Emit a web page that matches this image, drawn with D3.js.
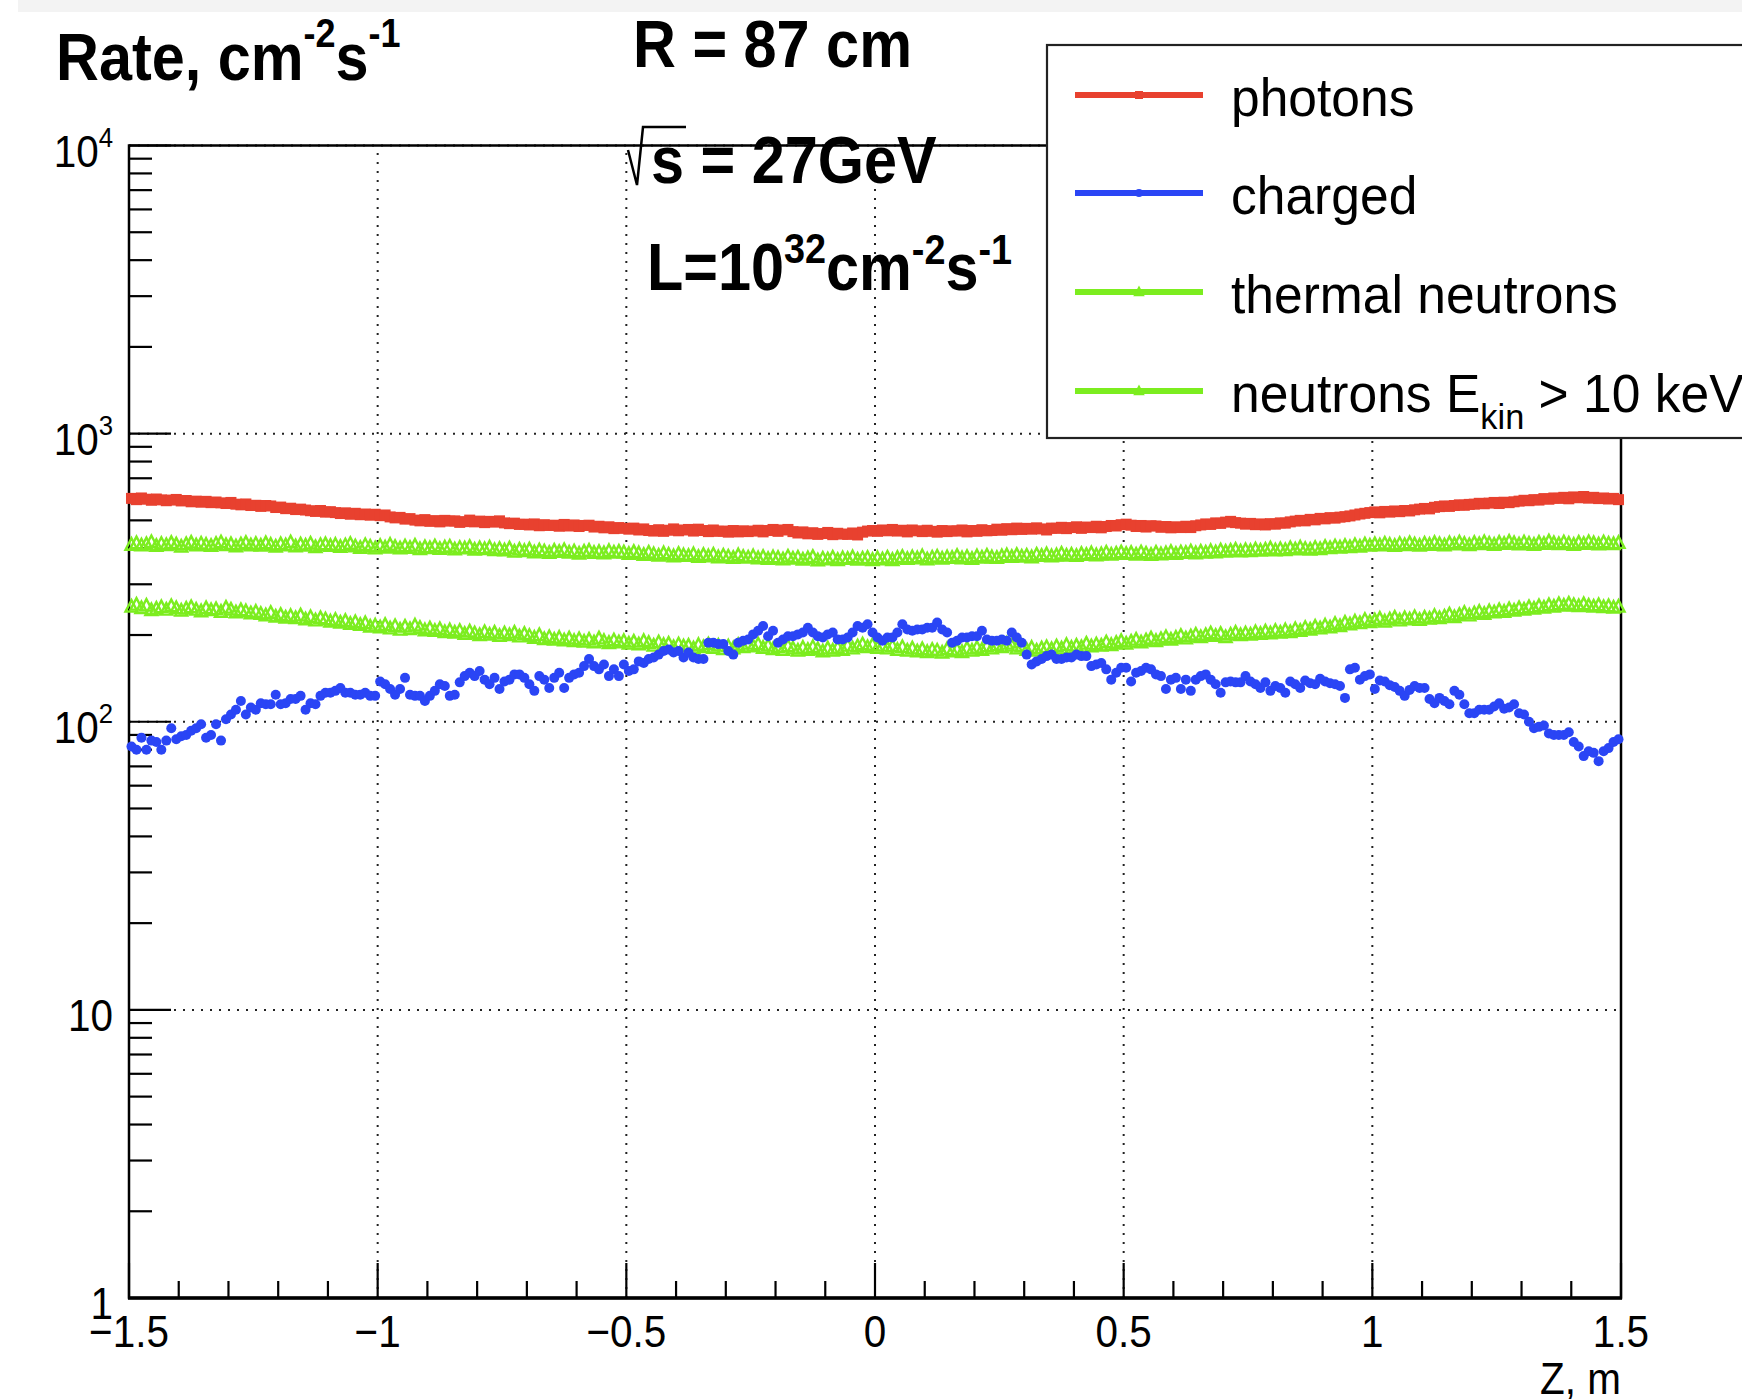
<!DOCTYPE html>
<html><head><meta charset="utf-8">
<script src="https://cdn.jsdelivr.net/npm/d3@7"></script>
<style>
body{margin:0;background:#fff}
svg{display:block}
text{font-family:"Liberation Sans",Arial,Helvetica,sans-serif;fill:#000}
.bold{font-weight:bold;font-size:66px}
.tick{font-size:44px}
.leg{font-size:54px}
</style></head>
<body>
<svg id="c" width="1742" height="1399"></svg>
<script>
// ---------- data ----------
const binFirst = -1.495, binStep = 0.01;   // bin centres of the Z histogram
const photons = [
596,590,598,592,587,593,589,585,588,591,584,586,580,583,578,582,576,579,575,572,577,569,566,570,563,
564,559,563,561,554,556,549,551,545,547,543,540,537,541,534,536,532,528,531,525,529,523,526,521,525,
519,522,514,510,512,505,507,501,498,503,496,499,494,500,497,498,492,495,501,494,497,491,496,493,498,
490,487,489,484,485,482,486,479,483,480,481,477,484,478,482,476,480,481,474,477,471,475,468,472,469,
466,470,463,467,461,459,464,458,462,467,460,463,465,459,466,461,457,463,458,459,455,461,456,460,457,
459,462,456,461,465,458,463,465,457,452,456,449,453,447,450,454,446,451,448,447,452,445,455,459,461,
458,463,460,465,459,462,456,463,460,457,462,458,455,461,457,460,459,463,456,461,458,464,460,461,466,
462,468,464,470,465,469,466,471,467,463,470,469,473,468,472,475,469,474,472,477,471,476,480,478,483,
485,481,476,480,474,479,478,473,476,471,475,472,477,472,479,482,486,484,490,488,493,496,491,489,485,
488,483,486,482,487,485,490,489,494,497,500,498,504,502,508,506,511,509,513,515,518,522,526,529,532,
535,531,537,534,539,536,541,539,544,547,550,548,555,558,561,559,563,566,564,568,569,573,571,574,577,
572,578,576,580,583,587,585,590,588,595,592,598,596,601,594,603,599,605,597,601,595,598,593,596,590];
const charged = [
82,80,88,80,86,85,80,86,95,87,89,90,93,95,98,88,90,98,86,102,106,110,118,106,112,
110,116,115,115,124,115,116,120,120,123,110,116,115,123,126,126,128,131,126,126,124,124,126,123,123,
138,135,130,124,130,142,124,123,123,118,123,128,135,133,123,124,137,144,148,144,150,140,135,142,130,
138,140,146,146,142,135,128,144,140,131,142,148,131,142,146,148,156,165,156,152,158,144,152,144,158,
150,152,162,160,165,167,171,176,178,174,176,167,174,167,165,165,188,188,186,186,176,171,188,191,193,
201,207,215,198,207,188,193,198,198,201,204,212,204,198,196,201,204,193,193,196,204,215,212,218,
204,196,191,196,196,204,218,209,207,209,209,212,212,221,209,204,188,191,196,196,198,198,207,193,191,
191,193,191,204,196,188,171,158,162,165,169,171,165,165,167,167,171,169,169,156,158,160,152,140,148,
154,154,138,148,150,154,152,146,144,130,140,142,130,140,128,140,144,146,140,135,126,137,138,137,
137,144,138,135,131,137,128,133,131,126,138,135,131,139,136,135,141,138,136,135,133,121,152,154,140,
144,146,130,139,138,134,132,128,123,129,133,131,131,120,116,121,118,115,128,124,115,107,107,110,110,
110,113,116,111,112,115,107,106,100,95,96,97,91,90,90,90,92,85,82,76,79,78,73,79,81,85,87];
const thermalNeutrons = [
410,415,408,412,419,406,413,409,416,411,404,412,417,408,414,410,406,413,418,409,412,405,411,416,408,
413,407,415,410,404,412,408,418,405,411,407,414,402,409,412,406,410,403,408,413,405,400,409,404,398,
406,401,410,403,398,405,400,407,396,402,399,405,397,401,404,395,400,398,403,394,399,396,401,393,397,
392,398,388,394,390,395,386,392,389,384,391,387,393,385,389,382,388,391,384,387,383,390,385,388,386,
381,387,383,378,385,380,376,383,379,374,381,377,375,380,372,378,374,379,371,376,373,369,377,372,370,
374,368,372,366,371,369,365,373,367,370,364,368,372,362,367,365,370,363,368,366,371,364,367,369,363,
368,365,370,363,369,372,366,371,368,374,365,370,373,367,371,369,375,368,372,366,374,370,376,371,369,
374,377,372,378,373,376,371,379,375,380,374,377,382,376,379,375,381,378,383,377,380,385,379,382,386,
381,384,379,386,382,378,385,380,383,387,381,386,384,389,383,388,385,390,386,392,388,391,394,389,393,
390,395,391,394,398,392,396,393,399,395,401,397,394,400,396,403,399,405,401,406,402,409,404,411,407,
412,408,414,410,406,413,409,415,411,407,414,410,416,412,408,415,411,418,413,409,416,412,419,414,410,
417,413,420,415,411,418,414,410,417,413,421,415,412,418,414,410,417,413,419,415,411,418,414,412,416];
const fastNeutrons = [
250,254,247,252,243,246,249,244,251,247,242,246,249,244,241,247,243,245,240,248,244,239,243,241,237,
240,236,233,238,231,234,229,232,228,233,226,230,224,228,226,222,225,220,223,218,221,216,219,213,215,
212,216,210,214,208,213,209,215,211,207,210,206,209,204,207,203,206,201,205,202,199,204,200,203,198,
202,199,203,197,201,198,195,199,193,196,192,195,191,194,190,193,189,192,188,194,190,187,191,188,190,
186,189,185,190,187,183,188,184,186,181,185,182,183,179,184,181,185,180,183,178,182,179,184,181,186,
182,185,180,183,178,181,177,182,179,176,180,177,181,178,175,179,176,180,177,183,179,182,185,181,184,
180,183,179,182,177,181,176,179,175,178,174,177,176,173,178,175,177,174,179,176,180,177,182,179,184,
181,186,183,179,182,177,180,176,179,181,178,182,179,184,180,183,181,186,182,185,183,188,184,187,190,
186,189,192,188,191,194,190,193,196,192,195,198,194,197,200,196,199,202,198,201,196,200,203,199,202,
200,204,201,205,202,206,203,207,204,209,206,211,208,213,210,215,212,218,214,220,217,222,219,225,221,
224,227,222,226,229,224,228,226,230,225,229,227,232,228,231,235,230,234,238,233,237,240,236,241,239,
243,240,245,242,247,244,249,246,251,248,253,250,255,252,256,253,251,255,252,250,253,249,251,248,250];

const xMajorTicks = [-1.5,-1,-0.5,0,0.5,1,1.5];
const xTickLabels = ["\u22121.5","\u22121","\u22120.5","0","0.5","1","1.5"];
const xGrid = [-1,-0.5,0,0.5,1];
const yDecades = [1,10,100,1000,10000];
const yTickBase = ["1","10","10","10","10"];
const yTickExp = ["","","2","3","4"];
const yGrid = [10,100,1000,10000];
const legendNames = ["photons","charged","thermal neutrons","neutrons E"];
const legendColors = ["#e8412f","#2a45f5","#7ced1f","#7ced1f"];

// ---------- drawing ----------
const svg = d3.select("#c");
const L = 129, R = 1621, T = 145.5, B = 1298;
const x = d3.scaleLinear().domain([-1.5,1.5]).range([L,R]);
const y = d3.scaleLog().domain([1,10000]).range([B,T]);

svg.append("rect").attr("x",0).attr("y",0).attr("width",1742).attr("height",1399).attr("fill","#fff");
svg.append("rect").attr("x",18).attr("y",0).attr("width",1724).attr("height",12).attr("fill","#f3f3f3");

function addText(parent, px, py, sx, cls, parts, anchor){
  const t = parent.append("text").attr("class",cls)
    .attr("transform",`translate(${px},${py}) scale(${sx},1)`)
    .attr("text-anchor",anchor||"start");
  parts.forEach(p=>{
    const s = t.append("tspan").text(p.t);
    if(p.fs) s.attr("font-size",p.fs);
    if(p.dy) s.attr("dy",p.dy);
  });
  return t;
}

// grid
const grid = svg.append("g").attr("stroke","#222").attr("stroke-width",2).attr("stroke-dasharray","2,7");
grid.selectAll(".gx").data(xGrid).join("line")
  .attr("x1",d=>x(d)).attr("x2",d=>x(d)).attr("y1",B).attr("y2",T);
grid.selectAll(".gy").data(yGrid).join("line")
  .attr("x1",L).attr("x2",R).attr("y1",d=>y(d)).attr("y2",d=>y(d));

// y ticks (log: majors at decades, minors 2..9)
const yMinor = [];
yDecades.slice(0,-1).forEach(d=>{ for(let k=2;k<=9;k++) yMinor.push(d*k); });
const ax = svg.append("g").attr("stroke","#000").attr("stroke-width",2.2);
ax.selectAll(".ym").data(yMinor).join("line")
  .attr("x1",L).attr("x2",L+23).attr("y1",d=>y(d)).attr("y2",d=>y(d));
ax.selectAll(".yM").data(yDecades).join("line")
  .attr("x1",L).attr("x2",L+42).attr("y1",d=>y(d)).attr("y2",d=>y(d));
// x ticks
const xMinor = d3.range(-14,15).map(i=>i/10).filter(v=>Math.abs(v*2-Math.round(v*2))>1e-6);
ax.selectAll(".xm").data(xMinor).join("line")
  .attr("x1",d=>x(d)).attr("x2",d=>x(d)).attr("y1",B).attr("y2",B-17);
ax.selectAll(".xM").data(xMajorTicks).join("line")
  .attr("x1",d=>x(d)).attr("x2",d=>x(d)).attr("y1",B).attr("y2",B-35);

// frame
svg.append("rect").attr("x",L).attr("y",T).attr("width",R-L).attr("height",B-T)
  .attr("fill","none").attr("stroke","#000").attr("stroke-width",2.5);
svg.append("line").attr("x1",L-1).attr("x2",R+1).attr("y1",B).attr("y2",B).attr("stroke","#000").attr("stroke-width",3.5);

// data
const bx = i => x(binFirst + i*binStep);
const gData = svg.append("g");
gData.append("g").selectAll("rect").data(photons).join("rect")
  .attr("x",(d,i)=>bx(i)-5.5).attr("y",d=>y(d)-5.5).attr("width",11).attr("height",11)
  .attr("fill",legendColors[0]);
const tri = "M0,-7L6,4.5L-6,4.5Z";
[thermalNeutrons, fastNeutrons].forEach(arr=>{
  gData.append("g").selectAll("path").data(arr).join("path")
    .attr("d",tri).attr("transform",(d,i)=>`translate(${bx(i)},${y(d)})`)
    .attr("fill","none").attr("stroke",legendColors[2]).attr("stroke-width",2.4);
});
gData.append("g").selectAll("circle").data(charged).join("circle")
  .attr("cx",(d,i)=>bx(i)).attr("cy",d=>y(d)).attr("r",5)
  .attr("fill",legendColors[1]);

// y tick labels
yDecades.forEach((d,i)=>{
  const parts = [{t:yTickBase[i]}];
  if(yTickExp[i]) parts.push({t:yTickExp[i], fs:28, dy:-20});
  addText(svg, 113, y(d)+21, 0.92, "tick", parts, "end");
});
// x tick labels
xMajorTicks.forEach((d,i)=>{
  addText(svg, x(d), 1347, 0.92, "tick", [{t:xTickLabels[i]}], "middle");
});
addText(svg, R, 1394, 0.92, "tick", [{t:"Z, m"}], "end");

// titles
addText(svg, 56, 80, 0.9, "bold", [{t:"Rate, cm"},{t:"-2",fs:40,dy:-33},{t:"s",fs:66,dy:33},{t:"-1",fs:40,dy:-33}]);
addText(svg, 633, 67, 0.9, "bold", [{t:"R = 87 cm"}]);
addText(svg, 651, 183, 0.9, "bold", [{t:"s = 27GeV"}]);
svg.append("path").attr("d","M628,150L637,185L643,127L686,127")
  .attr("fill","none").attr("stroke","#000").attr("stroke-width",2.5);
addText(svg, 647, 290, 0.9, "bold", [{t:"L=10"},{t:"32",fs:42,dy:-27},{t:"cm",fs:66,dy:27},{t:"-2",fs:42,dy:-26},{t:"s",fs:66,dy:26},{t:"-1",fs:42,dy:-26}]);

// legend
const lg = svg.append("g");
lg.append("rect").attr("x",1047).attr("y",45).attr("width",800).attr("height",393)
  .attr("fill","#fff").attr("stroke","#222").attr("stroke-width",2.2);
const legY = [95,193,292,391];
legendNames.forEach((n,i)=>{
  lg.append("line").attr("x1",1075).attr("x2",1203).attr("y1",legY[i]).attr("y2",legY[i])
    .attr("stroke",legendColors[i]).attr("stroke-width",6);
  if(i===0) lg.append("rect").attr("x",1135).attr("y",legY[i]-4).attr("width",8).attr("height",8).attr("fill",legendColors[i]);
  else if(i===1) lg.append("circle").attr("cx",1139).attr("cy",legY[i]).attr("r",4).attr("fill",legendColors[i]);
  else lg.append("path").attr("d","M0,-5L4.5,3.5L-4.5,3.5Z").attr("transform",`translate(1139,${legY[i]})`).attr("fill",legendColors[i]).attr("stroke",legendColors[i]).attr("stroke-width",1.5);
  const parts = [{t:n}];
  if(i===3){ parts.push({t:"kin",fs:36,dy:17}); parts.push({t:" > 10 keV",fs:54,dy:-17}); }
  addText(lg, 1231, legY[i]+21, 0.955, "leg", parts);
});
</script>
</body></html>
